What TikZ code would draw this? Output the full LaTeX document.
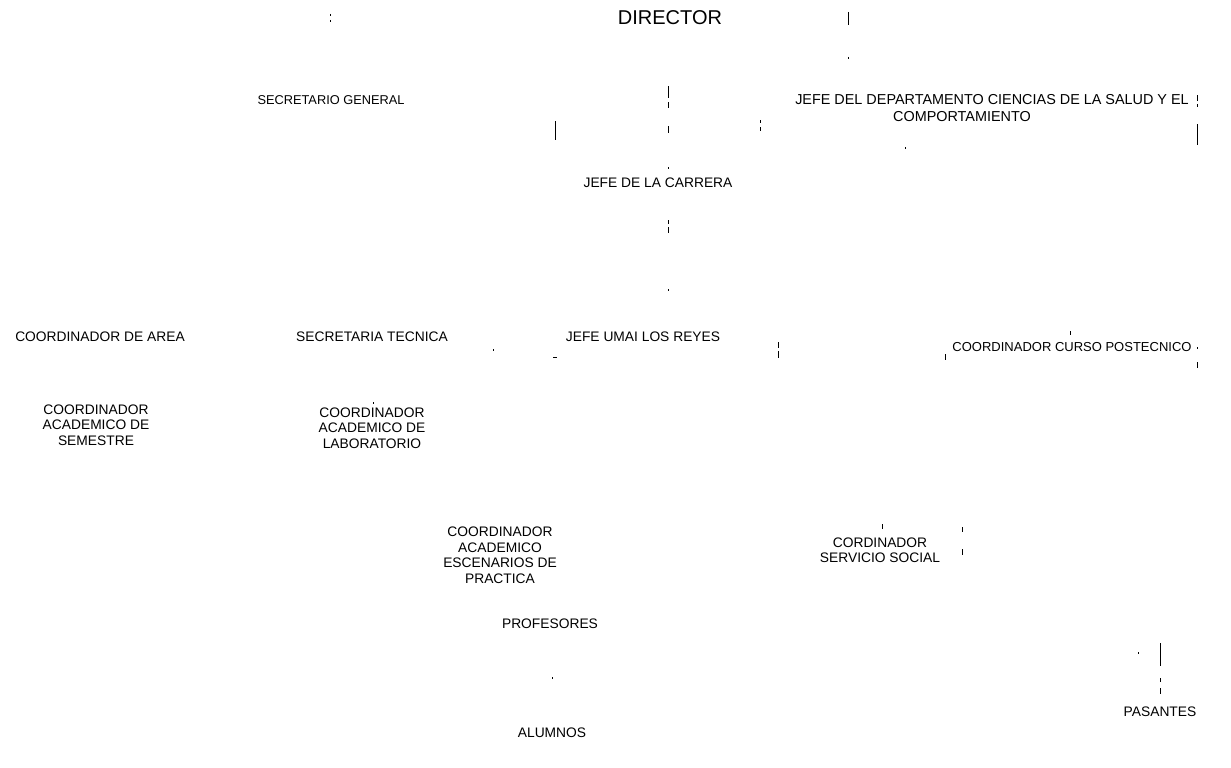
\documentclass[tikz,border=0pt]{standalone}
\usepackage{fontspec}
\setmainfont{Liberation Sans}
\begin{document}
\begin{tikzpicture}[x=1pt,y=-1pt,
  lbl/.style={inner sep=0pt, align=center, font=\fontsize{13.8}{15.5}\selectfont},
  big/.style={inner sep=0pt, font=\fontsize{20}{24}\selectfont},
  tick/.style={line width=0.9pt, black}]
\useasboundingbox[fill=white] (0,0) rectangle (1231,768);
% nodes
\node[big] (dir) at (670,18) {DIRECTOR};
\node[lbl, font=\fontsize{12.8}{15}\selectfont] (sg) at (331,100) {SECRETARIO GENERAL};
\node[lbl, font=\fontsize{14.4}{17}\selectfont] (jd) at (992,108) {JEFE DEL DEPARTAMENTO CIENCIAS DE LA SALUD Y EL\\COMPORTAMIENTO\hspace*{60pt}};
\node[lbl] (jc) at (658,183) {JEFE DE LA CARRERA};
\node[lbl] (ca) at (100,337) {COORDINADOR DE AREA};
\node[lbl] (st) at (372,337) {SECRETARIA TECNICA};
\node[lbl] (ju) at (643,337) {JEFE UMAI LOS REYES};
\node[lbl, font=\fontsize{13}{15}\selectfont] (cp) at (1072,347) {COORDINADOR CURSO POSTECNICO};
\node[lbl] (cs) at (96,425) {COORDINADOR\\ACADEMICO DE\\SEMESTRE};
\node[lbl] (cl) at (372,428) {COORDINADOR\\ACADEMICO DE\\LABORATORIO};
\node[lbl] (ce) at (500,555) {COORDINADOR\\ACADEMICO\\ESCENARIOS DE\\PRACTICA};
\node[lbl] (css) at (880,550) {CORDINADOR\\SERVICIO SOCIAL};
\node[lbl] (pr) at (550,624) {PROFESORES};
\node[lbl] (al) at (552,733) {ALUMNOS};
\node[lbl] (pa) at (1160,712) {PASANTES};
% faint connector remnants
\draw[tick] (330,14) -- (330,16) (330,20) -- (330,22);
\draw[tick] (848,12) -- (848,25);
\draw[tick] (848,57) -- (848,59);
\draw[tick] (668,86) -- (668,98) (668,102) -- (668,108);
\draw[tick] (668,126) -- (668,133);
\draw[tick] (555,121) -- (555,140);
\draw[tick] (760,120) -- (760,123) (760,127) -- (760,131);
\draw[tick] (1197,95) -- (1197,101) (1197,104) -- (1197,107);
\draw[tick] (1197,124) -- (1197,145);
\draw[tick] (905,147) -- (905,149);
\draw[tick] (668,167) -- (668,169);
\draw[tick] (668,220) -- (668,224) (668,227) -- (668,233);
\draw[tick] (668,289) -- (668,291);
\draw[tick] (493,349) -- (493,351);
\draw[tick] (553,357) -- (557,357);
\draw[tick] (778,342) -- (778,348) (778,351) -- (778,358);
\draw[tick] (945,354) -- (945,360);
\draw[tick] (1070,331) -- (1070,335);
\draw[tick] (1197,347) -- (1197,349) (1197,362) -- (1197,368);
\draw[tick] (373,402) -- (373,404);
\draw[tick] (882,524) -- (882,529);
\draw[tick] (962,527) -- (962,532) (962,549) -- (962,555);
\draw[tick] (1160,643) -- (1160,666) (1160,678) -- (1160,682) (1160,688) -- (1160,694);
\draw[tick] (1138,652) -- (1138,653.5);
\draw[tick] (552,677) -- (552,679);
\end{tikzpicture}
\end{document}
